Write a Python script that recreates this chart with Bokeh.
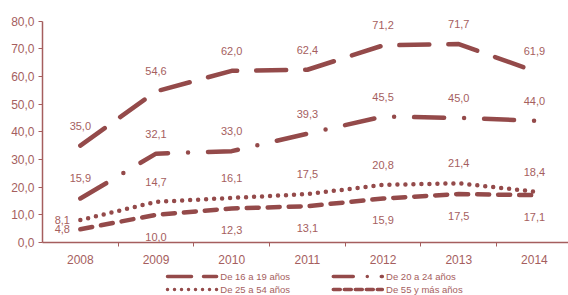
from bokeh.plotting import figure
from bokeh.layouts import column
from bokeh.models import (ColumnDataSource, FixedTicker, Range1d, LabelSet)
from bokeh.core.properties import value
from bokeh.embed import file_html
from bokeh.resources import INLINE

years = ["2008", "2009", "2010", "2011", "2012", "2013", "2014"]
s16_19 = [35.0, 54.6, 62.0, 62.4, 71.2, 71.7, 61.9]
s20_24 = [15.9, 32.1, 33.0, 39.3, 45.5, 45.0, 44.0]
s25_54 = [8.1, 14.7, 16.1, 17.5, 20.8, 21.4, 18.4]
s55 = [4.8, 10.0, 12.3, 13.1, 15.9, 17.5, 17.1]
names = ["De 16 a 19 años", "De 20 a 24 años", "De 25 a 54 años", "De 55 y más años"]
y_ticks = [0, 10, 20, 30, 40, 50, 60, 70, 80]

LINE = "#944a4a"
TEXT = "#a55e5e"
FONT = "Liberation Sans"

def fmt(v):
    return f"{v:.1f}".replace(".", ",")

p = figure(width=568, height=268, output_backend="svg", toolbar_location=None,
           x_range=Range1d(-0.5, 6.45), y_range=Range1d(0, 82),
           min_border_left=42, min_border_right=0, min_border_top=15, min_border_bottom=26)
p.outline_line_color = None
p.xgrid.visible = False
p.ygrid.visible = False

xs = list(range(len(years)))
series = [s16_19, s20_24, s25_54, s55]
dashes = ["30 19", "30 20 0 20", "0 8", "12 9"]
styles = dict(line_color=LINE, line_width=4.5, line_cap="round")
for vals, d in zip(series, dashes):
    src = ColumnDataSource(dict(x=xs, y=vals))
    p.line("x", "y", source=src, line_dash=d, **styles)

# data labels
offs = [(0, 20), (0, 20), (0, 20), (0, -22)]
for i, (vals, (dx, dy)) in enumerate(zip(series, offs)):
    xo = [dx] * len(xs)
    yo = [dy] * len(xs)
    if i in (2, 3):
        xo[0] = -18
        yo[0] = 0
    src = ColumnDataSource(dict(x=xs, y=vals, t=[fmt(v) for v in vals], xo=xo, yo=yo))
    p.add_layout(LabelSet(x="x", y="y", text="t", source=src, x_offset="xo", y_offset="yo",
                          text_align="center", text_baseline="middle",
                          text_font=value(FONT), text_font_size="11px", text_color=TEXT))

# x axis
p.xaxis.ticker = FixedTicker(ticks=xs, minor_ticks=[i + 0.5 for i in range(6)])
p.xaxis.major_label_overrides = {i: y for i, y in enumerate(years)}
p.xaxis.major_tick_out = 0
p.xaxis.major_tick_in = 0
p.xaxis.minor_tick_out = 4
p.xaxis.minor_tick_in = 0
p.xaxis.minor_tick_line_color = TEXT
p.xaxis.axis_line_color = TEXT
p.xaxis.axis_line_width = 1.5
p.xaxis.major_label_text_font = FONT
p.xaxis.major_label_text_font_size = "12px"
p.xaxis.major_label_text_color = TEXT
p.xaxis.major_label_standoff = 8

# y axis
p.yaxis.ticker = FixedTicker(ticks=y_ticks, minor_ticks=[])
p.yaxis.bounds = (0, 80)
p.yaxis.major_label_overrides = {t: fmt(t) for t in y_ticks}
p.yaxis.major_tick_out = 4
p.yaxis.major_tick_in = 0
p.yaxis.major_tick_line_color = TEXT
p.yaxis.axis_line_color = TEXT
p.yaxis.axis_line_width = 1.5
p.yaxis.major_label_text_font = FONT
p.yaxis.major_label_text_font_size = "12px"
p.yaxis.major_label_text_color = TEXT
p.yaxis.major_label_standoff = 4

# legend strip (drawn in pixel coordinates of a small figure)
leg = figure(width=568, height=27, output_backend="svg", toolbar_location=None,
             x_range=Range1d(0, 568), y_range=Range1d(27, 0),
             min_border=0, x_axis_type=None, y_axis_type=None)
leg.outline_line_color = None
leg.xgrid.visible = False
leg.ygrid.visible = False
col_x = [133, 312]
row_y = [8, 21]
sample_w = 55
leg_dashes = ["24 12", "20 14 0 14", "0 7", "7 4"]
for k, (n, d) in enumerate(zip(names, leg_dashes)):
    cx = col_x[k % 2]
    ry = row_y[k // 2]
    leg.line(x=[cx + 2, cx + sample_w], y=[ry, ry], line_dash=d, line_color=LINE,
             line_width=3.5, line_cap="round")
    leg.text(x=[cx + sample_w + 4], y=[ry], text=[n], text_font=value(FONT),
             text_font_size="9.5px", text_color=TEXT, text_baseline="middle", text_align="left")

open("out.html", "w").write(file_html(column(p, leg, spacing=0), INLINE))
